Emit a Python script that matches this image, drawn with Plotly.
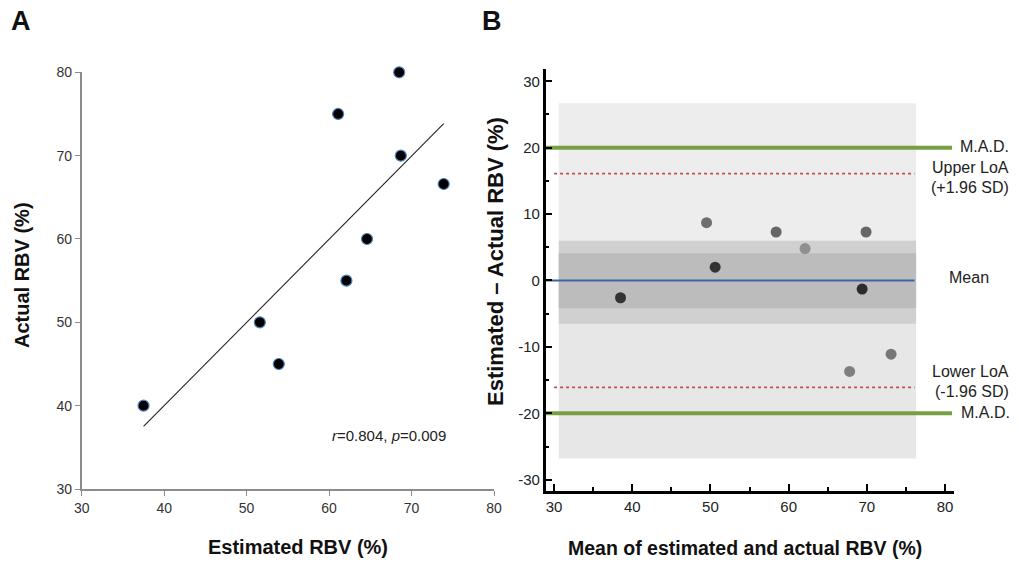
import numpy as np
import plotly.graph_objects as go

# ---------------- data ----------------
# Panel A: estimated vs actual RBV (%)
est_rbv = [37.5, 51.6, 53.9, 62.1, 61.1, 68.5, 68.7, 73.9, 64.6]
act_rbv = [40.0, 50.0, 45.0, 55.0, 75.0, 80.0, 70.0, 66.6, 60.0]
corr_text = "<i>r</i>=0.804, <i>p</i>=0.009"

# Panel B: Bland-Altman
ba_mean = [38.5, 50.6, 49.5, 58.4, 67.8, 73.1, 69.4, 69.9, 62.1]
ba_diff = [-2.6, 2.0, 8.7, 7.3, -13.7, -11.1, -1.3, 7.3, 4.8]
mean_diff = 0.0
loa_upper = 16.1
loa_lower = -16.1
mad_upper = 20.0
mad_lower = -20.0
outer_band = [-26.8, 26.7]
mid_band = [-6.5, 6.0]
inner_band = [-4.2, 4.1]
band_x = [30.6, 76.3]
loa_x = [30.0, 76.1]
mean_x = [28.93, 76.1]
mad_x = [28.93, 80.9]

ticks_a = [30, 40, 50, 60, 70, 80]
ticks_by = [-30, -20, -10, 0, 10, 20, 30]
ticks_by_text = ["-30", "-20", "-10", "0", "10", "20", "30"]

# styles
ba_colors = ["#333333", "#333333", "#6e6e6e", "#666666", "#7f7f7f",
             "#777777", "#2b2b2b", "#666666", "#8f8f8f"]

W, H = 1019, 564
def fx(p):
    return p / W
def fy(p):
    return 1 - p / H

FONT = "Liberation Sans, Arial, sans-serif"

fig = go.Figure()

# ---------- Panel A ----------
slope, intercept = np.polyfit(est_rbv, act_rbv, 1)
fit_x = np.array([min(est_rbv), max(est_rbv)])
fig.add_trace(go.Scatter(x=fit_x, y=slope * fit_x + intercept, mode="lines",
                         line=dict(color="#222222", width=1.1),
                         xaxis="x", yaxis="y", showlegend=False, hoverinfo="skip"))
fig.add_trace(go.Scatter(x=est_rbv, y=act_rbv, mode="markers", cliponaxis=False,
                         marker=dict(color="black", size=11,
                                     line=dict(color="#4f81bd", width=1.2)),
                         xaxis="x", yaxis="y", showlegend=False))

# ---------- Panel B ----------
shapes = []
def band(lo, hi, color):
    shapes.append(dict(type="rect", xref="x2", yref="y2",
                       x0=band_x[0], x1=band_x[1], y0=lo, y1=hi,
                       fillcolor=color, line=dict(width=0), layer="below"))
band(0, outer_band[1], "#ededed")
band(outer_band[0], 0, "#e7e7e7")
band(mid_band[0], mid_band[1], "#d0d0d0")
band(inner_band[0], inner_band[1], "#bcbcbc")

def hline(xs, yv, color, width, dash="solid"):
    fig.add_trace(go.Scatter(x=xs, y=[yv, yv], mode="lines",
                             line=dict(color=color, width=width, dash=dash),
                             xaxis="x2", yaxis="y2", showlegend=False,
                             hoverinfo="skip"))

hline(mad_x, mad_upper, "#77a043", 4)
hline(mad_x, mad_lower, "#77a043", 4)
hline(loa_x, loa_upper, "#c0504d", 1.8, "dot")
hline(loa_x, loa_lower, "#c0504d", 1.8, "dot")
hline(mean_x, mean_diff, "#3b67a0", 2.2)

fig.add_trace(go.Scatter(x=ba_mean, y=ba_diff, mode="markers", cliponaxis=False,
                         marker=dict(color=ba_colors, size=11, line=dict(width=0)),
                         xaxis="x2", yaxis="y2", showlegend=False))

# ---------- annotations ----------
ann = []
def text(x, y, s, size, bold=False, angle=0, xanchor="center", color="#222222",
         family=FONT):
    ann.append(dict(x=fx(x), y=fy(y), xref="paper", yref="paper",
                    text=("<b>%s</b>" % s) if bold else s, showarrow=False,
                    xanchor=xanchor, yanchor="middle", textangle=angle,
                    font=dict(size=size, color=color, family=family)))

text(21, 21, "A", 27, bold=True, color="#111111")
text(492, 21, "B", 27, bold=True, color="#111111")
text(22, 275, "Actual RBV (%)", 20, bold=True, angle=-90, color="#111111")
text(297.5, 547, "Estimated RBV (%)", 20, bold=True, color="#111111")
text(389, 435, corr_text, 15)
text(495, 262, "Estimated \u2013 Actual RBV (%)", 22, bold=True, angle=-90, color="#111111")
text(744.7, 548, "Mean of estimated and actual RBV (%)", 19.5, bold=True, color="#111111")

text(1011, 146, "M.A.D.", 16, xanchor="right")
text(1011, 167, "Upper LoA", 16, xanchor="right")
text(1011, 188, "(+1.96 SD)", 16, xanchor="right")
text(969, 277, "Mean", 16)
text(1011, 371, "Lower LoA", 16, xanchor="right")
text(1011, 391, "(-1.96 SD)", 16, xanchor="right")
text(1012, 412, "M.A.D.", 16, xanchor="right")

axis_a = dict(showgrid=False, zeroline=False, showline=True, linecolor="#8c8c8c",
              linewidth=1.5, ticks="outside", ticklen=5, tickcolor="#8c8c8c",
              tickwidth=1.2, tickfont=dict(size=14, color="#333333", family=FONT),
              fixedrange=True, automargin=False)
axis_b = dict(showgrid=False, zeroline=False, showline=True, linecolor="black",
              linewidth=2.5, ticks="inside", ticklen=7, tickcolor="black",
              tickwidth=2, tickfont=dict(size=15, color="#222222", family=FONT),
              minor=dict(ticks="inside", ticklen=4, tickwidth=1.5,
                         tickcolor="black", dtick=5),
              fixedrange=True, automargin=False)

fig.update_layout(
    width=W, height=H, autosize=False,
    margin=dict(l=0, r=0, t=0, b=0, pad=0),
    paper_bgcolor="white", plot_bgcolor="white",
    xaxis=dict(axis_a, domain=[fx(81.7), fx(494)], range=[30, 80],
               tickvals=ticks_a, anchor="y"),
    yaxis=dict(axis_a, domain=[fy(489), fy(72.3)], range=[30, 80],
               tickvals=ticks_a, anchor="x"),
    xaxis2=dict(axis_b, domain=[fx(545.7), fx(953.7)], range=[28.93, 81.11],
                tickmode="linear", tick0=30, dtick=10, anchor="y2"),
    yaxis2=dict(axis_b, domain=[fy(491), fy(69.3)], range=[-31.7, 31.8],
                tickmode="array", tickvals=ticks_by, ticktext=ticks_by_text,
                anchor="x2"),
    shapes=shapes,
    annotations=ann,
    showlegend=False,
)

fig.write_html("out.html", config={"displayModeBar": False},
               post_script="document.body.style.margin='0';"
                           "document.body.style.overflow='hidden';")
